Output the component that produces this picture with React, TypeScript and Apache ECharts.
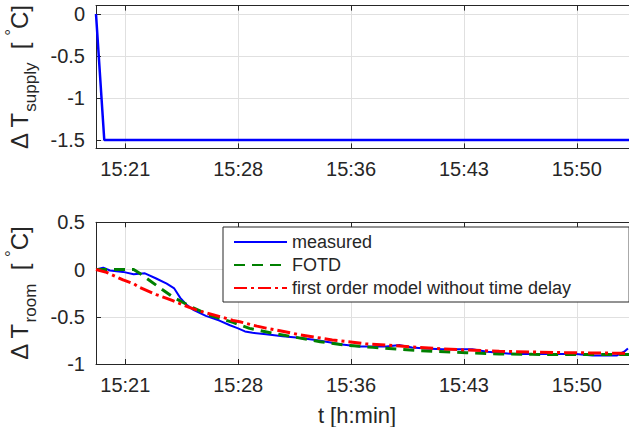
import React, { useEffect, useRef } from 'react';
import * as echarts from 'echarts';

// ---- axis ticks (time axis in minutes since start of the step test) ----
const xTickValues = [1.95, 9.45, 16.95, 24.45, 31.95];
const xTickLabels = ['15:21', '15:28', '15:36', '15:43', '15:50'];
const xMax = 35.42;

// ---- top panel: supply temperature step ----
const supplyTime = [0, 0.55, 35.42];
const supplyValues = [0, -1.5, -1.5];
const supplyTicks = [-1.5, -1, -0.5, 0];

// ---- bottom panel: room temperature ----
const measuredTime = [0, 0.48, 0.93, 1.8, 2.5, 3.25, 4.0, 4.7, 5.2, 5.6, 6.0, 6.5, 7.3, 8.2, 8.9, 9.4, 9.9, 10.4, 11.3, 12.4, 13.3, 14.6, 15.5, 16.2, 17.5, 18.5, 19.3, 20.2, 21.0, 21.9, 23.0, 24.0, 25.0, 26.0, 26.8, 27.7, 29.0, 30.4, 31.9, 33.0, 34.6, 35.1, 35.35];
const measuredValues = [0, 0.02, -0.01, -0.025, -0.05, -0.04, -0.095, -0.15, -0.2, -0.3, -0.37, -0.43, -0.49, -0.54, -0.59, -0.62, -0.655, -0.67, -0.685, -0.705, -0.72, -0.745, -0.77, -0.79, -0.815, -0.815, -0.815, -0.8, -0.825, -0.835, -0.845, -0.845, -0.845, -0.87, -0.88, -0.895, -0.895, -0.895, -0.895, -0.91, -0.91, -0.87, -0.835];

const fotdTime = [0, 2.5, 2.9, 4.0, 5.2, 6.4, 7.5, 9.1, 10.2, 11.8, 13.3, 14.9, 16.6, 18.4, 20.2, 22.4, 24.6, 26.8, 29.0, 31.2, 35.42];
const fotdValues = [0, 0, -0.04, -0.166, -0.3, -0.4, -0.48, -0.56, -0.623, -0.676, -0.718, -0.764, -0.8, -0.824, -0.845, -0.866, -0.88, -0.894, -0.898, -0.9, -0.9];

const foTime = [0, 0.7, 1.8, 2.5, 2.9, 4.0, 4.7, 5.1, 6.2, 6.9, 7.3, 8.45, 9.1, 9.55, 10.7, 11.3, 12.9, 13.5, 15.7, 17.9, 20.2, 22.4, 24.6, 26.8, 29.0, 31.2, 35.42];
const foValues = [0, -0.03, -0.11, -0.15, -0.19, -0.265, -0.305, -0.33, -0.4, -0.44, -0.458, -0.507, -0.54, -0.553, -0.599, -0.62, -0.67, -0.69, -0.745, -0.785, -0.81, -0.834, -0.852, -0.866, -0.873, -0.88, -0.887];

const legendNames = ['measured', 'FOTD', 'first order model without time delay'];

const FONT = '"Liberation Sans", Arial, Helvetica, sans-serif';
const TEXT = '#262626';
const AXIS = '#262626';
const GRIDC = '#e0e0e0';

const zip = (a: number[], b: number[]) => a.map((v, i) => [v, b[i]]);

function measure(text: string, size: number) {
  const c = document.createElement('canvas').getContext('2d');
  if (!c) return text.length * size * 0.55;
  c.font = `${size}px "Liberation Sans"`;
  return c.measureText(text).width;
}

function yLabel(centerY: number, sub: string) {
  const FS = 24;
  const SS = 17;
  const w1 = measure('Δ T', FS);
  const w2 = measure(sub, SS);
  const wsp = measure(' ', FS);
  const wb = measure('[', FS);
  const wdeg = measure('°', SS);
  const wC = measure('C]', FS);
  const total = w1 + w2 + 2 * wsp + wb + wsp + wdeg + wC;
  const start = centerY + total / 2;
  const mainY = 28 - 0.35 * FS;
  const subY = 36 - 0.35 * SS;
  const supY = 17 - 0.35 * SS;
  const t = (text: string, x: number, y: number, size: number) => ({
    type: 'text',
    x,
    y,
    style: {
      text,
      fontSize: size,
      fontFamily: FONT,
      fill: TEXT,
      align: 'left',
      verticalAlign: 'middle',
      textAlign: 'left',
      textVerticalAlign: 'middle',
    },
  });
  const xb = w1 + w2 + 2 * wsp;
  return {
    type: 'group',
    x: 0,
    y: start,
    rotation: Math.PI / 2,
    children: [
      t('Δ T', 0, mainY, FS),
      t(sub, w1, subY, SS),
      t('[', xb, mainY, FS),
      t('°', xb + wb + wsp, supY, SS),
      t('C]', xb + wb + wsp + wdeg, mainY, FS),
    ],
  };
}

function xAxes(gridIndex: number) {
  const common = {
    type: 'value',
    gridIndex,
    min: 0,
    max: xMax,
    axisLine: { show: true, onZero: false, lineStyle: { color: AXIS, width: 1 } },
    axisTick: { show: true, inside: true, length: 5, customValues: xTickValues, lineStyle: { color: AXIS } },
  };
  return [
    {
      ...common,
      position: 'bottom',
      axisLabel: {
        show: true,
        customValues: xTickValues,
        formatter: (v: number) => {
          let best = 0;
          xTickValues.forEach((tv, i) => {
            if (Math.abs(tv - v) < Math.abs(xTickValues[best] - v)) best = i;
          });
          return xTickLabels[best];
        },
        fontSize: 20,
        fontFamily: FONT,
        color: TEXT,
        margin: 11,
      },
      splitLine: { show: true, lineStyle: { color: GRIDC, width: 1 } },
    },
    {
      ...common,
      position: 'top',
      axisLabel: { show: false },
      splitLine: { show: false },
    },
  ];
}

export default function App() {
  const ref = useRef<HTMLDivElement>(null);
  useEffect(() => {
    document.body.style.margin = '0';
    if (!ref.current) return;
    const chart = echarts.init(ref.current, undefined, { renderer: 'svg' });
    const yCommon = {
      type: 'value',
      axisLine: { show: true, onZero: false, lineStyle: { color: AXIS, width: 1 } },
      splitLine: { show: true, lineStyle: { color: GRIDC, width: 1 } },
    };
    const yLabelStyle = { fontSize: 20, fontFamily: FONT, color: TEXT, margin: 11 };
    const option = {
      animation: false,
      backgroundColor: '#ffffff',
      grid: [
        { left: 96, right: 0, top: 5.6, height: 142.8, containLabel: false },
        { left: 96, right: 0, top: 222.3, height: 141.7, containLabel: false },
      ],
      xAxis: [...xAxes(0), ...xAxes(1)],
      yAxis: [
        {
          ...yCommon,
          gridIndex: 0,
          min: -1.6,
          max: 0.1,
          axisTick: { show: true, inside: true, length: 5, customValues: supplyTicks, lineStyle: { color: AXIS } },
          axisLabel: { ...yLabelStyle, customValues: supplyTicks },
        },
        {
          ...yCommon,
          gridIndex: 1,
          min: -1,
          max: 0.5,
          interval: 0.5,
          axisTick: { show: true, inside: true, length: 5, lineStyle: { color: AXIS } },
          axisLabel: { ...yLabelStyle },
        },
      ],
      legend: {
        data: legendNames,
        orient: 'vertical',
        left: 223,
        top: 227,
        padding: [5, 58, 4, 10],
        itemWidth: 53,
        itemHeight: 14,
        itemGap: 3,
        selectedMode: false,
        backgroundColor: '#ffffff',
        borderColor: AXIS,
        borderWidth: 1,
        borderRadius: 0,
        itemStyle: { opacity: 0, borderWidth: 0 },
        textStyle: { fontSize: 18, lineHeight: 20, fontFamily: FONT, color: TEXT },
      },
      graphic: [
        yLabel(77, 'supply'),
        yLabel(293, 'room'),
        {
          type: 'text',
          x: 357,
          y: 423 - 0.35 * 22,
          style: {
            text: 't [h:min]',
            fontSize: 22,
            fontFamily: FONT,
            fill: TEXT,
            align: 'center',
            verticalAlign: 'middle',
            textAlign: 'center',
            textVerticalAlign: 'middle',
          },
        },
      ],
      series: [
        {
          name: 'supply',
          type: 'line',
          xAxisIndex: 0,
          yAxisIndex: 0,
          data: zip(supplyTime, supplyValues),
          symbol: 'none',
          lineStyle: { color: '#0000ff', width: 2.5 },
          itemStyle: { color: '#0000ff' },
        },
        {
          name: legendNames[0],
          type: 'line',
          xAxisIndex: 2,
          yAxisIndex: 1,
          data: zip(measuredTime, measuredValues),
          symbol: 'none',
          lineStyle: { color: '#0000ff', width: 2 },
          itemStyle: { color: '#0000ff' },
        },
        {
          name: legendNames[1],
          type: 'line',
          xAxisIndex: 2,
          yAxisIndex: 1,
          data: zip(fotdTime, fotdValues),
          symbol: 'none',
          lineStyle: { color: '#008000', width: 3, type: [11, 7] },
          itemStyle: { color: '#008000' },
        },
        {
          name: legendNames[2],
          type: 'line',
          xAxisIndex: 2,
          yAxisIndex: 1,
          data: zip(foTime, foValues),
          symbol: 'none',
          lineStyle: { color: '#ff0000', width: 3, type: [13, 4, 3, 4] },
          itemStyle: { color: '#ff0000' },
        },
      ],
    };
    chart.setOption(option as any);
    return () => chart.dispose();
  }, []);
  return (
    <div
      ref={ref}
      style={{ position: 'fixed', left: 0, top: 0, width: 629, height: 427, background: '#fff' }}
    />
  );
}
